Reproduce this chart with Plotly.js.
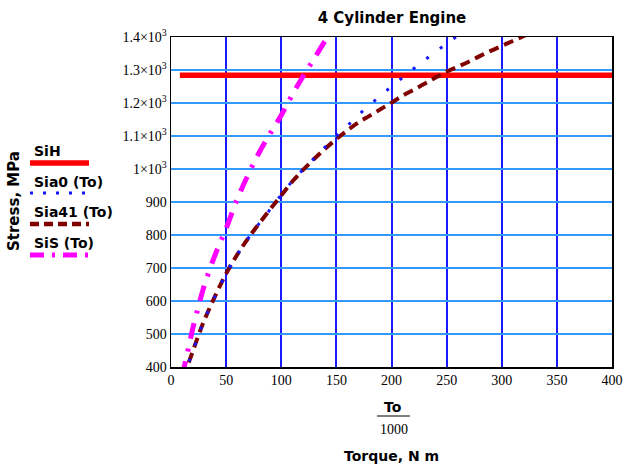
<!DOCTYPE html>
<html>
<head>
<meta charset="utf-8">
<script src="https://cdn.plot.ly/plotly-3.0.1.min.js"></script>
<style>html,body{margin:0;padding:0;background:#fff;}#chart{width:623px;height:465px;}</style>
</head>
<body>
<div id="chart"></div>
<script>
// ---- data ----
const sihX = [8, 400];
const sihY = [1284, 1284];

const sia0X = [10, 15, 20, 25, 30, 40, 50, 60, 70, 80, 90, 100, 110, 120, 130, 140, 150, 160, 170, 180, 190, 200, 210, 220, 230, 240, 250, 260];
const sia0Y = [370, 405, 450, 497, 540, 615, 683, 740, 790, 835, 878, 922, 963, 999, 1033, 1067, 1100, 1131, 1164, 1193, 1222, 1250, 1277, 1304, 1330, 1355, 1380, 1404];

const sia41X = [10, 15, 20, 25, 30, 40, 50, 60, 70, 80, 90, 100, 110, 120, 130, 140, 150, 160, 170, 180, 190, 200, 210, 220, 230, 240, 250, 260, 270, 280, 290, 300, 310, 320, 330];
const sia41Y = [370, 405, 450, 497, 540, 615, 683, 740, 790, 835, 878, 920, 962, 998, 1031, 1062, 1091, 1117, 1141, 1161, 1181, 1201, 1222, 1240, 1258, 1277, 1295, 1310, 1325, 1342, 1358, 1373, 1388, 1403, 1417];

const sisX = [10, 15, 20, 25, 30, 40, 50, 60, 70, 80, 90, 100, 110, 120, 130, 140, 145];
const sisY = [370, 445, 520, 585, 645, 740, 820, 908, 983, 1050, 1108, 1163, 1225, 1282, 1335, 1390, 1415];

const xTickVals = [0, 50, 100, 150, 200, 250, 300, 350, 400];
const xTickText = ['0', '50', '100', '150', '200', '250', '300', '350', '400'];
const yTickVals = [400, 500, 600, 700, 800, 900, 1000, 1100, 1200, 1300, 1400];
const yTickText = ['400', '500', '600', '700', '800', '900', '1\u00d710<sup>3</sup>', '1.1\u00d710<sup>3</sup>', '1.2\u00d710<sup>3</sup>', '1.3\u00d710<sup>3</sup>', '1.4\u00d710<sup>3</sup>'];

const legendNames = ['SiH', 'Sia0 (To)', 'Sia41 (To)', 'SiS (To)'];
const chartTitle = '4 Cylinder Engine';
const yTitle = 'Stress, MPa';
const xTitleTop = 'To';
const xTitleBottom = '1000';
const xTitle = 'Torque, N m';

// ---- styles ----
const cRed = '#ff0000', cBlue = '#1515ff', cDark = '#800000', cMag = '#ff00ff';
const boldFont = 'DejaVu Sans, Verdana, sans-serif';
const serifFont = 'Liberation Serif, Times New Roman, serif';

const traces = [
  {x: sihX, y: sihY, mode: 'lines', line: {color: cRed, width: 5.5}, showlegend: false, hoverinfo: 'skip'},
  {x: sia41X, y: sia41Y, mode: 'lines', line: {color: cDark, width: 4, dash: '10px,6px', shape: 'spline'}, showlegend: false, hoverinfo: 'skip'},
  {x: sia0X, y: sia0Y, mode: 'lines', line: {color: cBlue, width: 3, dash: '3px,14px', shape: 'spline'}, showlegend: false, hoverinfo: 'skip'},
  {x: sisX, y: sisY, mode: 'lines', line: {color: cMag, width: 5, dash: '16px,10px,3px,10px', shape: 'spline'}, showlegend: false, hoverinfo: 'skip'}
];

const L = 171, R = 612, T = 37, B = 367, W = 623, H = 465;
const px = v => (v - L) / (R - L);
const py = v => (B - v) / (B - T);

const legendStyles = [
  {color: cRed, width: 5.5, dash: 'solid'},
  {color: cBlue, width: 3, dash: '3px,10px'},
  {color: cDark, width: 4.5, dash: '9px,5px'},
  {color: cMag, width: 5, dash: '14px,8px,3px,8px'}
];
const legTextY = [151, 182, 212, 243];
const legLineY = [163, 193, 224, 255];

const annotations = [];
const shapes = [];
legendNames.forEach((n, i) => {
  annotations.push({xref: 'paper', yref: 'paper', x: px(32), y: py(legTextY[i]), xanchor: 'left', yanchor: 'middle',
    text: '<b>' + n + '</b>', showarrow: false, font: {family: boldFont, size: 14, color: '#000'}});
  shapes.push({type: 'line', xref: 'paper', yref: 'paper', x0: px(30), x1: px(89), y0: py(legLineY[i]), y1: py(legLineY[i]),
    line: legendStyles[i]});
});

annotations.push({xref: 'paper', yref: 'paper', x: px(14), y: py(201), xanchor: 'center', yanchor: 'middle', textangle: -90,
  text: '<b>' + yTitle + '</b>', showarrow: false, font: {family: boldFont, size: 15, color: '#000'}});
annotations.push({xref: 'paper', yref: 'paper', x: px(393), y: py(407), xanchor: 'center', yanchor: 'middle',
  text: '<b>' + xTitleTop + '</b>', showarrow: false, font: {family: boldFont, size: 14, color: '#000'}});
annotations.push({xref: 'paper', yref: 'paper', x: px(394), y: py(429), xanchor: 'center', yanchor: 'middle',
  text: xTitleBottom, showarrow: false, font: {family: serifFont, size: 14, color: '#000'}});
annotations.push({xref: 'paper', yref: 'paper', x: px(391), y: py(456), xanchor: 'center', yanchor: 'middle',
  text: '<b>' + xTitle + '</b>', showarrow: false, font: {family: boldFont, size: 14, color: '#000'}});
shapes.push({type: 'line', xref: 'paper', yref: 'paper', x0: px(377), x1: px(410), y0: py(416), y1: py(416),
  line: {color: '#000', width: 1.2}});

const layout = {
  width: W, height: H,
  margin: {l: L, r: W - R, t: T, b: H - B, pad: 0},
  paper_bgcolor: '#fff', plot_bgcolor: '#fff',
  showlegend: false,
  title: {text: '<b>' + chartTitle + '</b>', x: 392 / W, xanchor: 'center', y: 1 - 18 / H, yanchor: 'middle',
    font: {family: boldFont, size: 15, color: '#000'}},
  xaxis: {range: [0, 400], tickmode: 'array', tickvals: xTickVals, ticktext: xTickText,
    showgrid: true, gridcolor: '#1a1aff', gridwidth: 2, zeroline: false,
    showline: true, linecolor: '#000', linewidth: 1.5, mirror: true, ticks: '',
    tickfont: {family: serifFont, size: 14, color: '#000'}, fixedrange: true},
  yaxis: {range: [400, 1400], tickmode: 'array', tickvals: yTickVals, ticktext: yTickText,
    showgrid: true, gridcolor: '#3399ff', gridwidth: 2, zeroline: false,
    showline: true, linecolor: '#000', linewidth: 1.5, mirror: true, ticks: '',
    tickfont: {family: serifFont, size: 14, color: '#000'}, fixedrange: true, ticklabelstandoff: 0},
  annotations: annotations,
  shapes: shapes
};

Plotly.newPlot('chart', traces, layout, {staticPlot: true, displayModeBar: false});
</script>
</body>
</html>
